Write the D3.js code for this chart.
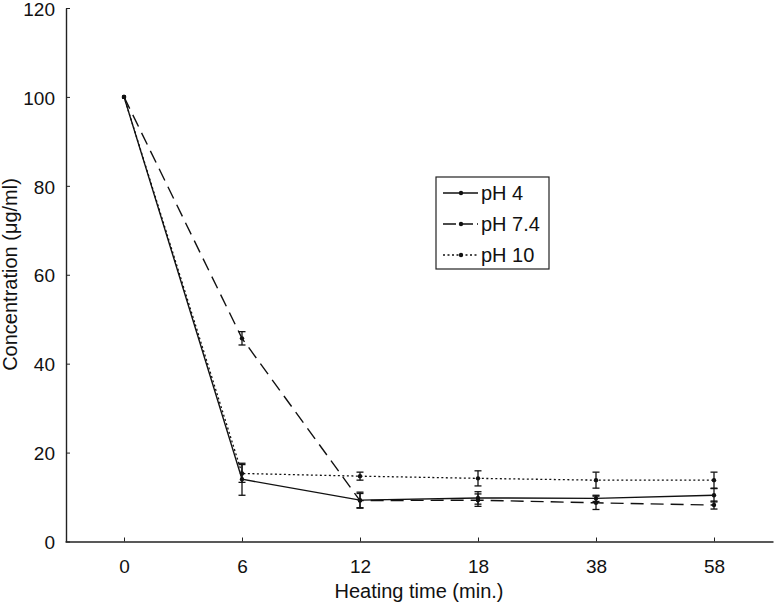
<!DOCTYPE html>
<html><head><meta charset="utf-8">
<script src="https://cdn.jsdelivr.net/npm/d3@7"></script>
<style>body{margin:0;background:#fff}svg{display:block}text{font-family:"Liberation Sans",Arial,sans-serif;fill:#111}</style>
</head><body><svg id="c" width="776" height="603"></svg>
<script>
const categories = ["0","6","12","18","38","58"];
const yTicks = [0,20,40,60,80,100,120];
const seriesNames = ["pH 4","pH 7.4","pH 10"];
const ph4 = [100, 14.0, 9.3, 9.8, 9.7, 10.4];
const ph4Err = [0, 3.6, 1.8, 1.4, 0.7, 1.5];
const ph74 = [100, 45.7, 9.2, 9.3, 8.7, 8.2];
const ph74Err = [0, 1.5, 1.6, 1.4, 1.5, 0.9];
const ph10 = [100, 15.3, 14.7, 14.2, 13.8, 13.8];
const ph10Err = [0, 2.0, 0.9, 1.7, 1.8, 1.8];

const svg = d3.select("#c");
const x = d3.scalePoint().domain(categories).range([65, 773]).padding(0.5);
const y = d3.scaleLinear().domain([0,120]).range([541.5, 8]);

const styles = [
  {dash:null, w:1.4},
  {dash:"13,7", w:1.4},
  {dash:"2,2.5", w:1.3}
];
const data = [
  {name:seriesNames[0], v:ph4, e:ph4Err, s:styles[0]},
  {name:seriesNames[1], v:ph74, e:ph74Err, s:styles[1]},
  {name:seriesNames[2], v:ph10, e:ph10Err, s:styles[2]}
];

// axes
const xAxis = d3.axisBottom(x).tickSizeInner(-4).tickSizeOuter(0).tickPadding(18);
const gx = svg.append("g").attr("transform","translate(0,541.5)").call(xAxis);
gx.select(".domain").attr("stroke","#222").attr("stroke-width",1.4);
gx.selectAll(".tick line").attr("stroke","#222");
gx.selectAll(".tick text").attr("font-size",19).attr("font-family","Liberation Sans, Arial, sans-serif").attr("fill","#111");

const yAxis = d3.axisLeft(y).tickValues(yTicks).tickSizeInner(-4).tickSizeOuter(0).tickPadding(11);
const gy = svg.append("g").attr("transform","translate(66,0)").call(yAxis);
gy.select(".domain").attr("stroke","#222").attr("stroke-width",1.4);
gy.selectAll(".tick line").attr("stroke","#222");
gy.selectAll(".tick text").attr("font-size",19).attr("dy","0.38em").attr("font-family","Liberation Sans, Arial, sans-serif").attr("fill","#111");

svg.append("text").attr("x",419).attr("y",598).attr("text-anchor","middle").attr("font-size",20).text("Heating time (min.)");
svg.append("text").attr("transform","translate(17,274.5) rotate(-90)").attr("text-anchor","middle").attr("font-size",20).text("Concentration (μg/ml)");

const line = d3.line().x((d,i)=>x(categories[i])).y(d=>y(d));
data.forEach(s=>{
  const g = svg.append("g");
  g.append("path").attr("d",line(s.v)).attr("fill","none").attr("stroke","#111")
    .attr("stroke-width",s.s.w).attr("stroke-dasharray",s.s.dash);
  s.v.forEach((v,i)=>{
    const cx = x(categories[i]);
    if (s.e[i]>0){
      const y1 = y(v+s.e[i]), y2 = y(v-s.e[i]);
      g.append("line").attr("x1",cx).attr("x2",cx).attr("y1",y1).attr("y2",y2).attr("stroke","#111").attr("stroke-width",1.3);
      [y1,y2].forEach(yy=>g.append("line").attr("x1",cx-3.5).attr("x2",cx+3.5).attr("y1",yy).attr("y2",yy).attr("stroke","#111").attr("stroke-width",1.3));
    }
    g.append("circle").attr("cx",cx).attr("cy",y(v)).attr("r",2.2).attr("fill","#111");
  });
});

// legend
const lg = svg.append("g");
lg.append("rect").attr("x",436).attr("y",177).attr("width",113).attr("height",92).attr("fill","#fff").attr("stroke","#222").attr("stroke-width",1.2);
data.forEach((s,i)=>{
  const yy = 193 + i*31;
  lg.append("line").attr("x1",443).attr("x2",478).attr("y1",yy).attr("y2",yy).attr("stroke","#111")
    .attr("stroke-width",s.s.w).attr("stroke-dasharray",s.s.dash ? (i===1?"13,4":"2,2.5") : null);
  lg.append("circle").attr("cx",461).attr("cy",yy).attr("r",2.2).attr("fill","#111");
  lg.append("text").attr("x",481).attr("y",yy+7).attr("font-size",20).text(s.name);
});
</script></body></html>
